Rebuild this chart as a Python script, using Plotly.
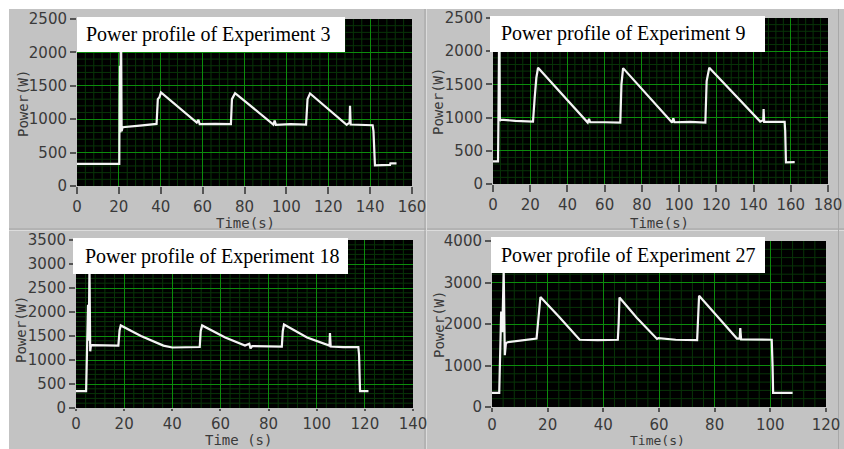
import plotly.graph_objects as go

W, H = 844, 449

# ---- measured power traces (time in s, power in W) ----
exp3_t = [0, 20.2, 20.3, 20.5, 20.7, 21.0, 21.3, 21.8, 30, 38.0, 38.6, 39.4, 40.1,
          57.2, 58.0, 58.6, 66, 73.5, 74.0, 75.5, 93.8, 94.4, 95.0, 102, 109.4,
          110.1, 111.3, 128.8, 130.2, 130.4, 130.7, 136, 141.2, 141.6, 142.3,
          149.5, 149.7, 152.6]
exp3_p = [330, 330, 1080, 1800, 800, 2700, 820, 880, 905, 930, 1300, 1330, 1400,
          950, 990, 925, 930, 925, 1300, 1390, 920, 980, 915, 925, 920,
          1300, 1385, 915, 950, 1200, 920, 915, 910, 820, 310,
          315, 340, 340]

exp9_t = [0, 2.7, 2.9, 3.1, 3.4, 3.7, 4.2, 12, 21.5, 22.4, 23.3, 24.2, 50.9, 51.6,
          52.2, 60, 68.4, 69.0, 69.9, 96.2, 96.9, 97.5, 106, 114.1, 114.8, 116.2,
          143.6, 145.2, 145.4, 145.7, 150, 156.7, 157.0, 157.4, 162.1]
exp9_p = [340, 340, 910, 1820, 2600, 950, 970, 950, 940, 1300, 1600, 1750, 925, 980,
          930, 930, 925, 1500, 1745, 925, 990, 930, 935, 925, 1550, 1750,
          940, 960, 1130, 935, 935, 935, 800, 325, 330]

exp18_t = [0, 4.2, 4.4, 4.7, 5.0, 5.3, 5.6, 5.9, 6.2, 6.6, 12, 17.6, 18.1, 18.6, 27,
           36.3, 40, 45, 51.4, 51.8, 52.4, 62, 70.2, 72.0, 72.5, 73.2, 78, 85.5,
           85.9, 86.4, 96, 104.8, 105.3, 105.5, 105.8, 111, 117.3, 117.6, 118.0,
           121.5]
exp18_p = [350, 350, 800, 1450, 2150, 1400, 3000, 1180, 1300, 1310, 1300, 1300, 1620,
           1720, 1500, 1300, 1260, 1270, 1270, 1600, 1720, 1470, 1300, 1340, 1240,
           1290, 1280, 1280, 1600, 1740, 1470, 1300, 1300, 1560, 1280, 1270, 1270,
           1100, 350, 350]

exp27_t = [0, 2.6, 2.9, 3.3, 3.7, 4.2, 4.6, 5.0, 5.6, 10, 16.0, 16.5, 17.4, 24, 30.9,
           31.5, 38, 45.2, 45.5, 45.8, 52, 59.3, 59.8, 66, 73.7, 74.0, 74.4, 81,
           88.0, 89.0, 89.2, 89.5, 95, 100.5, 100.8, 101.0, 108]
exp27_p = [340, 340, 1200, 2300, 1800, 3300, 1250, 1540, 1560, 1600, 1650, 2000, 2650,
           2180, 1660, 1620, 1610, 1620, 2000, 2640, 2150, 1640, 1660, 1620, 1610,
           2000, 2680, 2180, 1650, 1650, 1900, 1630, 1620, 1620, 1000, 340, 340]

titles = ["Power profile of Experiment 3", "Power profile of Experiment 9",
          "Power profile of Experiment 18", "Power profile of Experiment 27"]
x_titles = ["Time(s)", "Time(s)", "Time (s)", "Time(s)"]
y_title = "Power(W)"

x_ranges = [[0, 160], [0, 180], [0, 140], [0, 120]]
y_ranges = [[0, 2500], [0, 2500], [0, 3500], [0, 4000]]
y_major = [500, 500, 500, 1000]
y_minor = [100, 100, 100, 200]
x_major, x_minor = 20, 4

series = [(exp3_t, exp3_p), (exp9_t, exp9_p), (exp18_t, exp18_p), (exp27_t, exp27_p)]

# plot-area boxes in pixels: left, right, top, bottom
areas = [(77, 412, 19, 186), (493, 828, 18, 184), (76, 413, 240, 408), (492, 826, 241, 407)]
# white caption boxes: left, right, top, bottom, text start
boxes = [(77, 345, 17, 52, 84), (490, 765, 16, 52, 499), (73, 348, 238, 274, 83),
         (491, 765, 237, 273, 499)]
ytitle_pos = [(23, 104), (438, 102), (21, 330), (439, 325)]
# x-axis caption centres (None = sit on the bottom edge)
xtitle_pos = [(245, 223), (659, 223), (238, 440), (657, None)]
x_title_size = [14, 14, 14, 13]
x_ticklen = [7, 7, 2, 4]

GRAY = "#c3c3c3"
TICK_FONT = dict(family="DejaVu Sans", size=15, color="#3a3a3a")
LABEL_FONT = dict(family="DejaVu Sans Mono", size=14, color="#3a3a3a")
MAJOR = "#0c8c0c"
MINOR = "#083408"


def px(x):
    return x / W


def py(y):
    return 1 - y / H


fig = go.Figure()
layout = dict(
    template="none",
    width=W, height=H, margin=dict(l=0, r=0, t=0, b=0, pad=0),
    paper_bgcolor=GRAY, plot_bgcolor="black", showlegend=False,
)
shapes = []
annotations = []

for i, ((t, p), (l, r, tp, bt)) in enumerate(zip(series, areas)):
    n = "" if i == 0 else str(i + 1)
    xr, yr = x_ranges[i], y_ranges[i]
    fig.add_trace(go.Scatter(
        x=t, y=p, mode="lines", line=dict(color="#f4f4f4", width=2.2),
        xaxis="x" + n, yaxis="y" + n, hoverinfo="skip"))

    layout["xaxis" + n] = dict(
        domain=[px(l), px(r)], range=xr, anchor="y" + n, automargin=False,
        dtick=x_major, tick0=0, showgrid=True, gridcolor=MAJOR, gridwidth=1,
        ticks="outside", ticklen=x_ticklen[i], tickwidth=1.5, tickcolor="#555",
        tickfont=TICK_FONT, zeroline=False, showline=False, fixedrange=True)
    layout["yaxis" + n] = dict(
        domain=[py(bt), py(tp)], range=yr, anchor="x" + n, automargin=False,
        dtick=y_major[i], tick0=0, showgrid=True, gridcolor=MAJOR, gridwidth=1,
        ticks="outside", ticklen=6, tickwidth=1.5, tickcolor="#555",
        tickfont=TICK_FONT, zeroline=False, showline=False, fixedrange=True)

    # fine grid, drawn beneath the main grid lines
    for v in range(xr[0] + x_minor, xr[1], x_minor):
        if v % x_major:
            shapes.append(dict(type="line", layer="below", xref="x" + n,
                               yref="y" + n + " domain", x0=v, x1=v, y0=0, y1=1,
                               line=dict(color=MINOR, width=1)))
    for v in range(yr[0] + y_minor[i], yr[1], y_minor[i]):
        if v % y_major[i]:
            shapes.append(dict(type="line", layer="below", xref="x" + n + " domain",
                               yref="y" + n, x0=0, x1=1, y0=v, y1=v,
                               line=dict(color=MINOR, width=1)))

    bl, br, btp, bbt, tx = boxes[i]
    shapes.append(dict(type="rect", xref="paper", yref="paper", layer="above",
                       x0=px(bl), x1=px(br), y0=py(bbt), y1=py(btp),
                       fillcolor="white", line=dict(width=0)))
    annotations.append(dict(text=titles[i], xref="paper", yref="paper",
                            x=px(tx), y=py((btp + bbt) / 2), xanchor="left",
                            yanchor="middle", showarrow=False,
                            font=dict(family="Liberation Serif", size=20, color="black")))
    yx, yy = ytitle_pos[i]
    annotations.append(dict(text=y_title, xref="paper", yref="paper", x=px(yx), y=py(yy),
                            xanchor="center", yanchor="middle", textangle=-90,
                            showarrow=False, font=LABEL_FONT))
    cx, cy = xtitle_pos[i]
    annotations.append(dict(text=x_titles[i], xref="paper", yref="paper", x=px(cx),
                            y=0 if cy is None else py(cy), xanchor="center",
                            yanchor="bottom" if cy is None else "middle",
                            borderpad=0, showarrow=False,
                            font=dict(LABEL_FONT, size=x_title_size[i])))

# white frame along the top and left edges
shapes.append(dict(type="rect", xref="paper", yref="paper", layer="below",
                   x0=0, x1=1, y0=py(9), y1=1, fillcolor="white", line=dict(width=0)))
shapes.append(dict(type="rect", xref="paper", yref="paper", layer="below",
                   x0=0, x1=px(9), y0=0, y1=1, fillcolor="white", line=dict(width=0)))
# panel separators
for (x0, x1, y0, y1, c) in [
        (9, W, 229, 229, "#a2a2a2"), (9, W, 230.5, 230.5, "#dcdcdc"),
        (425, 425, 9, H, "#a2a2a2"), (426.5, 426.5, 9, H, "#dcdcdc"),
        (838.5, 838.5, 9, H, "#a8a8a8")]:
    shapes.append(dict(type="line", xref="paper", yref="paper", layer="below",
                       x0=px(x0), x1=px(x1), y0=py(y0), y1=py(y1),
                       line=dict(color=c, width=1)))

layout["shapes"] = shapes
layout["annotations"] = annotations
fig.update_layout(**layout)
fig.write_html("out.html")
